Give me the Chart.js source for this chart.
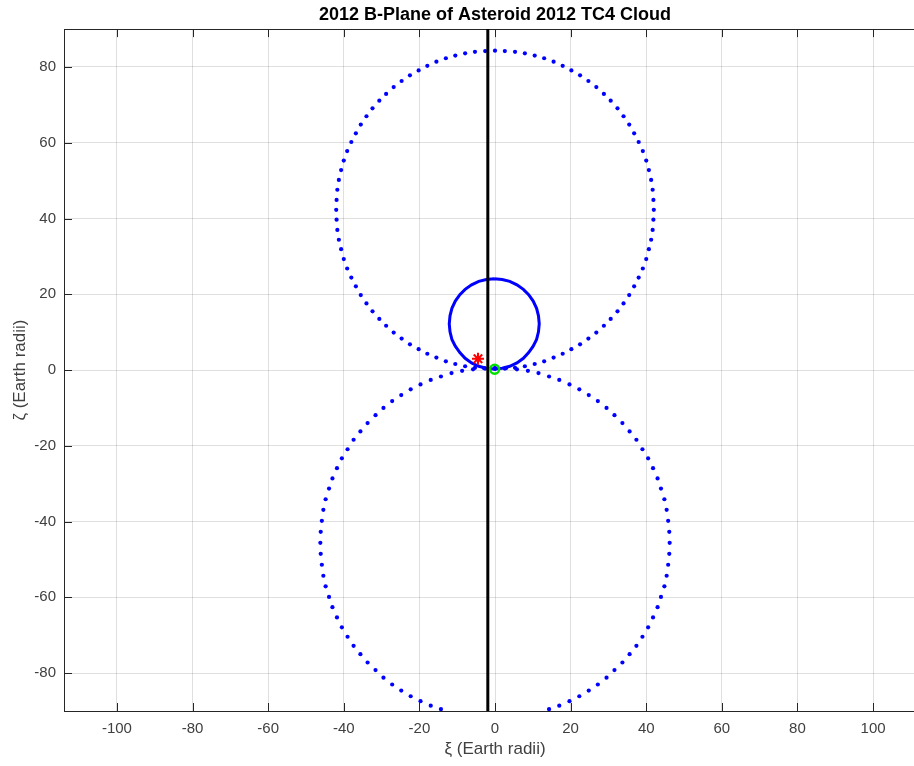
<!DOCTYPE html>
<html>
<head>
<meta charset="utf-8">
<script src="https://cdn.jsdelivr.net/npm/chart.js@4"></script>
<style>
  html, body { margin: 0; padding: 0; background: #fff; overflow: hidden; }
  #wrap { width: 934px; height: 766px; }
</style>
</head>
<body>
<div id="wrap"><canvas id="bplane" width="934" height="766"></canvas></div>
<script>
// B-plane coordinates in Earth radii: xi across, zeta up
const xiTicks = [-100, -80, -60, -40, -20, 0, 20, 40, 60, 80, 100];
const zetaTicks = [-80, -60, -40, -20, 0, 20, 40, 60, 80];

// cloud samples, upper lobe
const upperXi = [
  0, 2.6, 5.3, 7.9, 10.5, 13.0, 15.5, 17.9, 20.2, 22.5, 24.7, 26.8, 28.8, 30.6, 32.4, 34.0, 35.5,
  36.8, 38.0, 39.1, 40.0, 40.7, 41.3, 41.7, 41.9, 42.0, 41.9, 41.7, 41.3, 40.7, 40.0, 39.1, 38.0,
  36.8, 35.5, 34.0, 32.4, 30.6, 28.8, 26.8, 24.7, 22.5, 20.2, 17.9, 15.5, 13.0, 10.5, 7.9, 5.3, 2.6, 0,
  -2.6, -5.3, -7.9, -10.5, -13.0, -15.5, -17.9, -20.2, -22.5, -24.7, -26.8, -28.8, -30.6, -32.4,
  -34.0, -35.5, -36.8, -38.0, -39.1, -40.0, -40.7, -41.3, -41.7, -41.9, -42.0, -41.9, -41.7, -41.3,
  -40.7, -40.0, -39.1, -38.0, -36.8, -35.5, -34.0, -32.4, -30.6, -28.8, -26.8, -24.7, -22.5, -20.2,
  -17.9, -15.5, -13.0, -10.5, -7.9, -5.3, -2.6
];
const upperZeta = [
  84.3, 84.2, 84.0, 83.6, 83.0, 82.3, 81.4, 80.3, 79.1, 77.8, 76.3, 74.7, 72.9, 71.1, 69.1, 67.0, 64.8,
  62.5, 60.2, 57.8, 55.3, 52.8, 50.2, 47.6, 44.9, 42.3, 39.7, 37.0, 34.4, 31.9, 29.3, 26.8, 24.4,
  22.1, 19.8, 17.6, 15.5, 13.5, 11.7, 9.9, 8.3, 6.8, 5.5, 4.3, 3.3, 2.3, 1.6, 1.0, 0.6, 0.4, 0.3,
  0.4, 0.6, 1.0, 1.6, 2.3, 3.3, 4.3, 5.5, 6.8, 8.3, 9.9, 11.7, 13.5, 15.5,
  17.6, 19.8, 22.1, 24.4, 26.8, 29.3, 31.9, 34.4, 37.0, 39.7, 42.3, 44.9, 47.6, 50.2,
  52.8, 55.3, 57.8, 60.2, 62.5, 64.8, 67.0, 69.1, 71.1, 72.9, 74.7, 76.3, 77.8, 79.1,
  80.3, 81.4, 82.3, 83.0, 83.6, 84.0, 84.2
];

// cloud samples, lower lobe (the bottom of it runs off the axes)
const lowerXi = [
  0, 2.9, 5.8, 8.7, 11.5, 14.3, 17.0, 19.7, 22.3, 24.8, 27.2, 29.5, 31.6, 33.7, 35.6, 37.4, 39.0,
  40.5, 41.8, 43.0, 43.9, 44.8, 45.4, 45.8, 46.1, 46.2, 46.1, 45.8, 45.4, 44.8, 43.9, 43.0, 41.8,
  40.5, 39.0, 37.4, 35.6, 33.7, 31.6, 29.5, 27.2, 24.8, 22.3, 19.7, 17.0, 14.3,
  -14.3, -17.0, -19.7, -22.3, -24.8, -27.2, -29.5, -31.6, -33.7, -35.6, -37.4, -39.0, -40.5, -41.8,
  -43.0, -43.9, -44.8, -45.4, -45.8, -46.1, -46.2, -46.1, -45.8, -45.4, -44.8, -43.9, -43.0, -41.8,
  -40.5, -39.0, -37.4, -35.6, -33.7, -31.6, -29.5, -27.2, -24.8, -22.3, -19.7, -17.0, -14.3, -11.5,
  -8.7, -5.8, -2.9
];
const lowerZeta = [
  0.6, 0.5, 0.2, -0.2, -0.8, -1.7, -2.6, -3.8, -5.1, -6.6, -8.2, -10.0, -11.9, -14.0, -16.2, -18.4, -20.9,
  -23.3, -25.9, -28.6, -31.3, -34.1, -36.9, -39.8, -42.7, -45.6, -48.5, -51.4, -54.3, -57.1, -59.9, -62.6, -65.3,
  -67.9, -70.4, -72.8, -75.0, -77.2, -79.2, -81.2, -83.0, -84.6, -86.1, -87.4, -88.6, -89.5,
  -89.5, -88.6, -87.4, -86.1, -84.6, -83.0, -81.2, -79.2, -77.2, -75.0, -72.8, -70.4, -67.9, -65.3,
  -62.6, -59.9, -57.1, -54.3, -51.4, -48.5, -45.6, -42.7, -39.8, -36.9, -34.1, -31.3, -28.6, -25.9,
  -23.3, -20.9, -18.4, -16.2, -14.0, -11.9, -10.0, -8.2, -6.6, -5.1, -3.8, -2.6, -1.7, -0.8,
  -0.2, 0.2, 0.5
];

// capture ring around Earth
const ringXi = [
  -0.2, 1.9, 3.9, 5.8, 7.5, 8.9, 10.1, 11.0, 11.5, 11.7, 11.5, 11.0, 10.1, 8.9, 7.5, 5.8, 3.9, 1.9,
  -0.2, -2.3, -4.3, -6.2, -7.9, -9.3, -10.5, -11.4, -11.9, -12.1, -11.9, -11.4, -10.5, -9.3, -7.9,
  -6.2, -4.3, -2.3, -0.2
];
const ringZeta = [
  24.1, 23.9, 23.4, 22.5, 21.3, 19.9, 18.2, 16.3, 14.3, 12.2, 10.1, 8.1, 6.3, 4.6, 3.1, 1.9, 1.0, 0.5,
  0.3, 0.5, 1.0, 1.9, 3.1, 4.6, 6.3, 8.1, 10.1, 12.2, 14.3, 16.3, 18.2, 19.9, 21.3,
  22.5, 23.4, 23.9, 24.1
];

// vertical reference line
const lineXi = [-1.9, -1.9];
const lineZeta = [-90, 90];

// nominal solution and Earth centre
const nominalXi = [-4.5];
const nominalZeta = [3.0];
const earthXi = [-0.1];
const earthZeta = [0.2];

const pts = (xs, ys) => xs.map((v, i) => ({ x: v, y: ys[i] }));

const axisColor = '#404040';
const fontFamily = '"Liberation Sans", Arial, Helvetica, sans-serif';

// MATLAB style box with tick marks pointing inwards
const boxTicks = {
  id: 'boxTicks',
  beforeDatasetsDraw(chart) {
    const { ctx, chartArea: a, scales: { x, y } } = chart;
    const len = 8;
    ctx.save();
    ctx.strokeStyle = '#262626';
    ctx.lineWidth = 1;
    ctx.beginPath();
    xiTicks.forEach(v => {
      const px = Math.round(x.getPixelForValue(v)) + 0.5;
      ctx.moveTo(px, a.bottom); ctx.lineTo(px, a.bottom - len);
      ctx.moveTo(px, a.top); ctx.lineTo(px, a.top + len);
    });
    zetaTicks.forEach(v => {
      const py = Math.round(y.getPixelForValue(v)) + 0.5;
      ctx.moveTo(a.left, py); ctx.lineTo(a.left + len, py);
      ctx.moveTo(a.right, py); ctx.lineTo(a.right - len, py);
    });
    ctx.stroke();
    ctx.strokeRect(Math.round(a.left) + 0.5, Math.round(a.top) + 0.5,
      Math.round(a.right - a.left), Math.round(a.bottom - a.top));
    ctx.restore();
  }
};

new Chart(document.getElementById('bplane'), {
  type: 'scatter',
  data: {
    datasets: [
      {
        label: 'cloud (upper)',
        data: pts(upperXi, upperZeta),
        pointRadius: 2.1,
        pointBackgroundColor: '#0000ff',
        pointBorderWidth: 0,
        order: 6
      },
      {
        label: 'cloud (lower)',
        data: pts(lowerXi, lowerZeta),
        pointRadius: 2.1,
        pointBackgroundColor: '#0000ff',
        pointBorderWidth: 0,
        order: 5
      },
      {
        label: 'capture ring',
        data: pts(ringXi, ringZeta),
        showLine: true,
        borderColor: '#0000ff',
        borderWidth: 3,
        pointRadius: 0,
        order: 4
      },
      {
        label: 'reference',
        data: pts(lineXi, lineZeta),
        showLine: true,
        borderColor: '#000000',
        borderWidth: 3,
        pointRadius: 0,
        order: 3
      },
      {
        label: 'nominal',
        data: pts(nominalXi, nominalZeta),
        pointStyle: 'star',
        pointRadius: 6,
        pointBorderColor: '#ff0000',
        pointBorderWidth: 2,
        order: 2
      },
      {
        label: 'Earth',
        data: pts(earthXi, earthZeta),
        pointStyle: 'circle',
        pointRadius: 4.5,
        pointBorderColor: '#00e000',
        pointBackgroundColor: 'rgba(0,0,0,0)',
        pointBorderWidth: 2.5,
        order: 1
      }
    ]
  },
  options: {
    responsive: false,
    animation: false,
    devicePixelRatio: 1,
    layout: { padding: { left: 0, right: 3, top: 0, bottom: 0 } },
    plugins: {
      legend: { display: false },
      tooltip: { enabled: false },
      title: {
        display: true,
        fullSize: false,
        text: '2012 B-Plane of Asteroid 2012 TC4 Cloud',
        color: '#000000',
        font: { family: fontFamily, size: 18, weight: 'bold', lineHeight: 1.2 },
        padding: { top: 4.5, bottom: 3 }
      }
    },
    scales: {
      x: {
        type: 'linear',
        min: -114.0,
        max: 114.0,
        afterBuildTicks: s => { s.ticks = xiTicks.map(v => ({ value: v })); },
        afterFit: s => { s.height = 55; },
        border: { display: false },
        grid: { color: 'rgba(38,38,38,0.15)', drawTicks: false },
        ticks: { color: axisColor, padding: 9, maxRotation: 0, font: { family: fontFamily, size: 15 } },
        title: {
          display: true,
          text: 'ξ (Earth radii)',
          color: axisColor,
          font: { family: fontFamily, size: 17 },
          padding: { top: 0, bottom: 6 }
        }
      },
      y: {
        type: 'linear',
        min: -90,
        max: 90,
        afterBuildTicks: s => { s.ticks = zetaTicks.map(v => ({ value: v })); },
        afterFit: s => { s.width = 64; },
        border: { display: false },
        grid: { color: 'rgba(38,38,38,0.15)', drawTicks: false },
        ticks: { color: axisColor, padding: 8, font: { family: fontFamily, size: 15 } },
        title: {
          display: true,
          text: 'ζ (Earth radii)',
          color: axisColor,
          font: { family: fontFamily, size: 17 },
          padding: { top: 10, bottom: 0 }
        }
      }
    }
  },
  plugins: [boxTicks]
});
</script>
</body>
</html>
